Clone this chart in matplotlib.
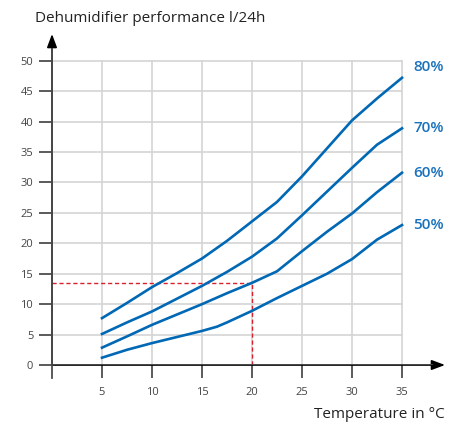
import matplotlib.pyplot as plt

plt.rcParams['font.family'] = ['Open Sans', 'DejaVu Sans']

TEMPS = [5, 7.5, 10, 12.5, 15, 17.5, 20, 22.5, 25, 27.5, 30, 32.5, 35]
RH_80 = [7.7, 10.2, 12.8, 15.1, 17.5, 20.4, 23.6, 26.8, 31.0, 35.6, 40.2, 43.8, 47.2]
RH_70 = [5.1, 7.0, 8.8, 10.9, 13.0, 15.3, 17.8, 20.8, 24.6, 28.5, 32.4, 36.2, 38.9]
RH_60 = [2.85, 4.7, 6.6, 8.3, 10.0, 11.8, 13.5, 15.4, 18.7, 21.9, 24.9, 28.4, 31.6]
TEMPS_50 = [5, 7.5, 10, 12.5, 15, 16.5, 17.5, 20, 22.5, 25, 27.5, 30, 32.5, 35]
RH_50 = [1.2, 2.5, 3.6, 4.6, 5.6, 6.3, 7.0, 8.9, 11.0, 13.0, 15.0, 17.4, 20.6, 23.0]

SERIES = [("80%", TEMPS, RH_80), ("70%", TEMPS, RH_70),
          ("60%", TEMPS, RH_60), ("50%", TEMPS_50, RH_50)]
LABEL_Y = {"80%": 48.9, "70%": 39.0, "60%": 31.5, "50%": 23.0}

MARK_T = 20
MARK_P = 13.5

X_TICKS = [5, 10, 15, 20, 25, 30, 35]
Y_TICKS = [0, 5, 10, 15, 20, 25, 30, 35, 40, 45, 50]

BLUE = "#0068b4"
LABEL_BLUE = "#1a72bd"
AXIS = "#4d4d4d"
GRID = "#d4d4d4"


def main():
    fig = plt.figure(figsize=(4.49, 4.25), dpi=100)
    ax = fig.add_axes([52 / 449, 60 / 425, (445 - 52) / 449, (365 - 34) / 425])
    ax.set_xlim(0, 39.3)
    ax.set_ylim(0, 54.4)
    for s in ax.spines.values():
        s.set_visible(False)

    # grid, limited to the plotting area
    for x in X_TICKS:
        ax.plot([x, x], [0, 50], color=GRID, lw=1.2, zorder=1)
    for y in Y_TICKS[1:]:
        ax.plot([0, 35], [y, y], color=GRID, lw=1.2, zorder=1)

    # axes with arrows
    ax.annotate("", xy=(39.3, 0), xytext=(0, 0),
                arrowprops=dict(arrowstyle="-|>,head_length=0.8,head_width=0.3",
                                color="black", lw=1.2, shrinkA=0, shrinkB=0),
                annotation_clip=False, zorder=3)
    ax.plot([0, 38], [0, 0], color=AXIS, lw=1.3, zorder=3)
    ax.annotate("", xy=(0, 54.4), xytext=(0, 0),
                arrowprops=dict(arrowstyle="-|>,head_length=0.8,head_width=0.3",
                                color="black", lw=1.2, shrinkA=0, shrinkB=0),
                annotation_clip=False, zorder=3)
    ax.plot([0, 0], [-2.2, 52], color=AXIS, lw=1.3, zorder=3, clip_on=False)

    ax.set_xticks(X_TICKS)
    ax.set_yticks(Y_TICKS)
    ax.tick_params(axis="x", length=9.5, width=1.3, color=AXIS, labelsize=8,
                   labelcolor="#444444", pad=6)
    ax.tick_params(axis="y", length=9.5, width=1.3, color=AXIS, labelsize=8,
                   labelcolor="#444444", pad=4)

    # reference reading
    ax.plot([0, MARK_T], [MARK_P, MARK_P], color="#d9202e", lw=1, ls=(0, (3, 2)), zorder=2)
    ax.plot([MARK_T, MARK_T], [0, MARK_P], color="#d9202e", lw=1, ls=(0, (3, 2)), zorder=2)

    for name, xs, ys in SERIES:
        ax.plot(xs, ys, color=BLUE, lw=1.9, zorder=4, solid_joinstyle="round")
        ax.text(36.1, LABEL_Y[name], name, color=LABEL_BLUE, fontsize=11,
                fontweight="semibold", va="center", ha="left")

    fig.text(35 / 449, 1 - 19 / 425, "Dehumidifier performance l/24h",
             fontsize=11, color="#222222", va="center", ha="left")
    fig.text(445 / 449, 1 - 414 / 425, "Temperature in °C",
             fontsize=11, color="#222222", va="center", ha="right")

    fig.savefig("out.png", dpi=100)


if __name__ == "__main__":
    main()
